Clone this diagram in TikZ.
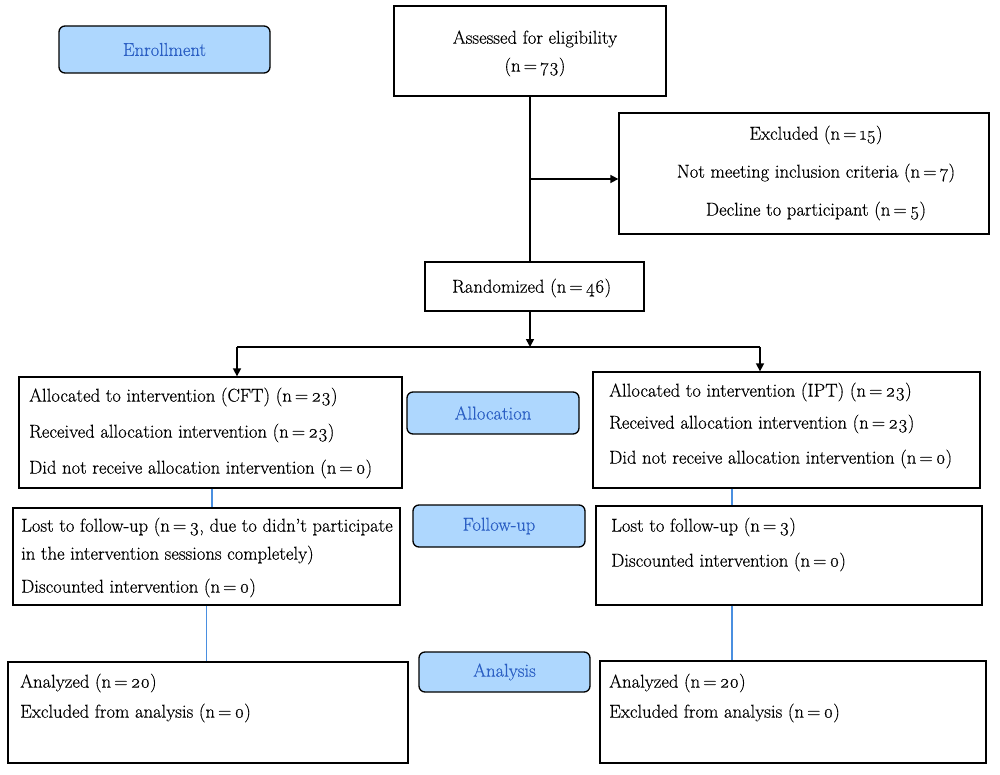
\documentclass[tikz,border=0pt]{standalone}
\usepackage{fontspec}
\setmainfont{Latin Modern Roman}[Numbers=OldStyle, FakeBold=0.4]
\usetikzlibrary{arrows.meta}
\definecolor{labfill}{HTML}{AED7FE}
\definecolor{labtext}{HTML}{2B5FC4}
\definecolor{conblue}{HTML}{4A8FE0}
\newcommand{\nn}[1]{(n\,=\,#1)}
\begin{document}
\begin{tikzpicture}[x=1pt,y=-1pt,
  every node/.style={font=\fontsize{18.6}{22}\selectfont},
  box/.style={draw, line width=1.3pt, inner sep=0pt},
  lab/.style={draw, line width=1.3pt, rounded corners=6pt, fill=labfill, text=labtext, inner sep=0pt},
  ln/.style={anchor=west, inner sep=0pt},
  cn/.style={inner sep=0pt},
  main/.style={line width=1.6pt},
  arr/.style={line width=1.6pt, -{Triangle[length=8pt,width=8pt]}},
  thin blue/.style={draw=conblue, line width=1.2pt}]
\useasboundingbox (0,0) rectangle (1000,775);
% phase labels
\node[lab, minimum width=211, minimum height=47] (enroll) at (164.5,49.5) {Enrollment};
\node[lab, minimum width=172, minimum height=42] (alloc) at (493,413) {Allocation};
\node[lab, minimum width=172, minimum height=42] (fup) at (499,526) {Follow-up};
\node[lab, minimum width=171, minimum height=40] (anl) at (504.5,672) {Analysis};
% boxes
\node[box, minimum width=272, minimum height=90] (assess) at (530,51) {};
\node[cn] (assess1) at (535,39) {Assessed for eligibility};
\node[cn] (assess2) at (535,67) {\nn{73}};
\node[box, minimum width=370, minimum height=121] (excl) at (804,173.5) {};
\node[cn] (excl1) at (816,135) {Excluded \nn{15}};
\node[cn] (excl2) at (816,173) {Not meeting inclusion criteria \nn{7}};
\node[cn] (excl3) at (816,211) {Decline to participant \nn{5}};
\node[box, minimum width=219, minimum height=49] (rand) at (534.5,286.5) {};
\node[ln] (rand1) at (452,288) {Randomized \nn{46}};
\node[box, minimum width=383, minimum height=111] (cft) at (210.5,432.5) {};
\node[ln] (cft1) at (29,397) {Allocated to intervention (CFT) \nn{23}};
\node[ln] (cft2) at (29,433) {Received allocation intervention \nn{23}};
\node[ln] (cft3) at (29,469) {Did not receive allocation intervention \nn{0}};
\node[box, minimum width=387, minimum height=116] (ipt) at (786.5,430) {};
\node[ln] (ipt1) at (609,392) {Allocated to intervention (IPT) \nn{23}};
\node[ln] (ipt2) at (609,424) {Received allocation intervention \nn{23}};
\node[ln] (ipt3) at (609,459) {Did not receive allocation intervention \nn{0}};
\node[box, minimum width=387, minimum height=97] (fcft) at (206.5,556.5) {};
\node[ln] (fcft1) at (21,527) {Lost to follow-up (n\,=\,3, due to didn’t participate};
\node[ln] (fcft2) at (21,555) {in the intervention sessions completely)};
\node[ln] (fcft3) at (21,588) {Discounted intervention \nn{0}};
\node[box, minimum width=386, minimum height=99] (fipt) at (789,555.5) {};
\node[ln] (fipt1) at (611,527) {Lost to follow-up \nn{3}};
\node[ln] (fipt2) at (611,562) {Discounted intervention \nn{0}};
\node[box, minimum width=400, minimum height=101] (acft) at (208,712.5) {};
\node[ln] (acft1) at (20,683) {Analyzed \nn{20}};
\node[ln] (acft2) at (20,713) {Excluded from analysis \nn{0}};
\node[box, minimum width=386, minimum height=102] (aipt) at (793,712) {};
\node[ln] (aipt1) at (609,683) {Analyzed \nn{20}};
\node[ln] (aipt2) at (609,713) {Excluded from analysis \nn{0}};
% connectors
\coordinate (split) at (530,179);
\coordinate (fork) at (530,347);
\coordinate (forkL) at (237,347);
\coordinate (forkR) at (760,347);
\coordinate (ipx) at (732,0);
\draw[main] (assess.south) -- (assess.south |- rand.north);
\draw[arr] (split) -- (excl.west |- split);
\draw[arr] (fork |- rand.south) -- (fork);
\draw[main] (forkL) -- (forkR);
\draw[arr] (forkL) -- (forkL |- cft.north);
\draw[arr] (forkR) -- (forkR |- ipt.north);
\draw[thin blue] (cft.south -| 212,0) -- (fcft.north -| 212,0);
\draw[thin blue] (ipt.south -| ipx) -- (fipt.north -| ipx);
\draw[thin blue] (fcft.south) -- (fcft.south |- acft.north);
\draw[thin blue] (fipt.south -| ipx) -- (aipt.north -| ipx);
\end{tikzpicture}
\end{document}
